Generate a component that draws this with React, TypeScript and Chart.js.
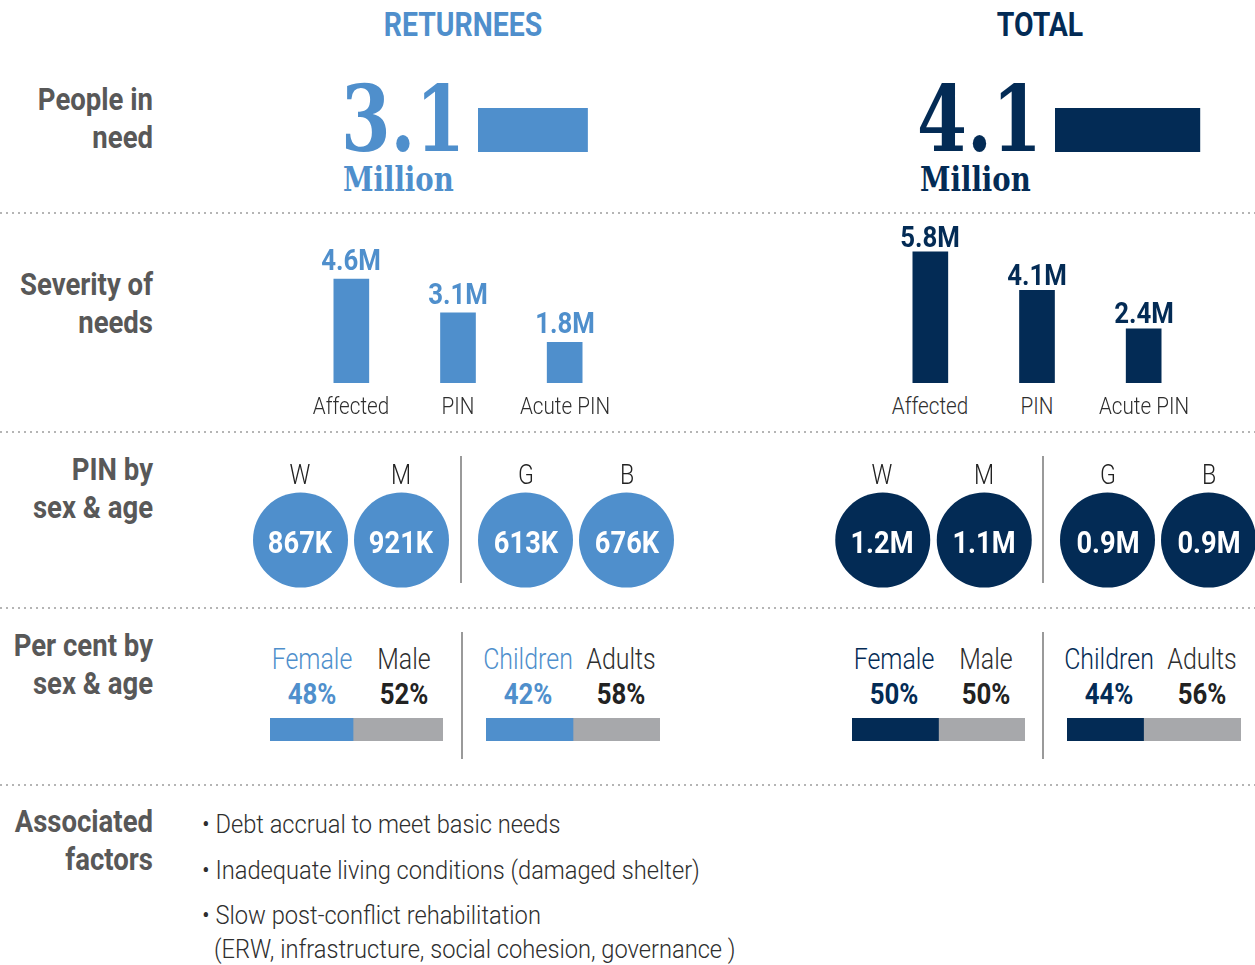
import React, { useEffect, useRef, useState } from "react";
import { Chart, registerables } from "chart.js";

Chart.register(...registerables);

// ---------------- data ----------------
const groupTitles = ["RETURNEES", "TOTAL"];
const pinMillions = [3.1, 4.1];
const pinUnit = "Million";

const severityCategories = ["Affected", "PIN", "Acute PIN"];
const severityReturnees = [4.6, 3.1, 1.8];
const severityTotal = [5.8, 4.1, 2.4];

const sexLetters = ["W", "M"];
const ageLetters = ["G", "B"];
const pinSexReturnees = ["867K", "921K"];
const pinAgeReturnees = ["613K", "676K"];
const pinSexTotal = ["1.2M", "1.1M"];
const pinAgeTotal = ["0.9M", "0.9M"];

const pctSexLabels = ["Female", "Male"];
const pctAgeLabels = ["Children", "Adults"];
const pctSexReturnees = [48, 52];
const pctAgeReturnees = [42, 58];
const pctSexTotal = [50, 50];
const pctAgeTotal = [44, 56];
// split of the children/adults bar for returnees, as drawn in the reference
const barAgeReturnees = [50, 50];

const rowLabels = [
  ["People in", "need"],
  ["Severity of", "needs"],
  ["PIN by", "sex & age"],
  ["Per cent by", "sex & age"],
  ["Associated", "factors"],
];

const factors = [
  "Debt accrual to meet basic needs",
  "Inadequate living conditions (damaged shelter)",
  "Slow post-conflict rehabilitation",
];
const factorNote = "(ERW, infrastructure, social cohesion, governance )";

// ---------------- styles ----------------
const BLUE = "#4f8fcc";
const NAVY = "#032b55";
const GREY_BAR = "#a7a8ab";
const LABEL = "#585858";
const DARK = "#2e2e2e";
const SANS = 'Roboto, "Noto Sans", sans-serif';
const SERIF = '"DejaVu Serif", "Liberation Serif", serif';
const SX = 0.86;
// where the two split labels sit along the split bar (in the bar's 0-100 scale)
const SPLIT_LABEL_AT = [24, 77.5];

type Align = "left" | "center" | "right";

function T(props: {
  x: number;
  y: number; // baseline
  size: number;
  weight?: number;
  color?: string;
  align?: Align;
  sx?: number;
  lh?: number;
  family?: string;
  children: React.ReactNode;
}) {
  const { x, y, size, weight = 400, color = DARK, align = "left", sx = SX, lh = 1, family = SANS, children } = props;
  const tx = align === "left" ? "0%" : align === "right" ? "-100%" : "-50%";
  return (
    <div
      style={{
        position: "absolute",
        left: x,
        top: y - size * (lh / 2 + 0.343),
        fontFamily: family,
        fontSize: size,
        fontWeight: weight,
        color,
        lineHeight: `${size * lh}px`,
        whiteSpace: "nowrap",
        transformOrigin: `${align} top`,
        transform: `translateX(${tx}) scaleX(${sx})`,
      }}
    >
      {children}
    </div>
  );
}

type Pt = { x: number; y: number; base: number };
type Geo = { pts: Pt[][]; marks: number[] };

function MiniChart(props: {
  left: number;
  top: number;
  width: number;
  height: number;
  config: any;
  overlay?: (g: Geo) => React.ReactNode;
}) {
  const { left, top, width, height, config, overlay } = props;
  const ref = useRef<HTMLCanvasElement>(null);
  const [geo, setGeo] = useState<Geo | null>(null);
  useEffect(() => {
    const chart = new Chart(ref.current as HTMLCanvasElement, config);
    const pts = chart.data.datasets.map((_: any, i: number) =>
      chart.getDatasetMeta(i).data.map((el: any) => ({ x: el.x, y: el.y, base: el.base }))
    );
    const xs: any = chart.scales.x;
    const marks = SPLIT_LABEL_AT.map((v) => xs.getPixelForValue(v));
    setGeo({ pts, marks });
    return () => chart.destroy();
  }, []);
  return (
    <div style={{ position: "absolute", left, top, width, height }}>
      <canvas ref={ref} width={width} height={height} style={{ display: "block", width, height }} />
      {geo && overlay ? overlay(geo) : null}
    </div>
  );
}

const baseOptions = {
  responsive: false,
  animation: false,
  events: [],
  layout: { padding: 0, autoPadding: false },
  plugins: { legend: { display: false }, tooltip: { enabled: false } },
};

function pinBarConfig(value: number, color: string) {
  return {
    type: "bar",
    data: { labels: [pinUnit], datasets: [{ data: [value], backgroundColor: color, borderWidth: 0, barThickness: 44 }] },
    options: {
      ...baseOptions,
      indexAxis: "y",
      scales: { x: { display: false, min: 0, max: 6 }, y: { display: false } },
    },
  };
}

function severityConfig(values: number[], color: string) {
  return {
    type: "bar",
    data: {
      labels: severityCategories,
      datasets: [{ data: values, backgroundColor: color, borderWidth: 0, barThickness: 35 }],
    },
    options: {
      ...baseOptions,
      scales: { x: { display: false }, y: { display: false, min: 0, max: 6.5 } },
    },
  };
}

function circleConfig(letters: string[], color: string) {
  return {
    type: "bubble",
    data: {
      datasets: [
        {
          data: letters.map((l) => ({ x: l, y: 0, r: 47.5 })),
          backgroundColor: color,
          borderWidth: 0,
          clip: false,
        },
      ],
    },
    options: {
      ...baseOptions,
      scales: {
        x: { type: "category", labels: letters, offset: true, display: false },
        y: { type: "linear", min: -1, max: 1, display: false },
      },
    },
  };
}

function splitConfig(shares: number[], color: string) {
  return {
    type: "bar",
    data: {
      labels: ["share"],
      datasets: [
        { data: [shares[0]], backgroundColor: color, borderWidth: 0, barThickness: 23 },
        { data: [shares[1]], backgroundColor: GREY_BAR, borderWidth: 0, barThickness: 23 },
      ],
    },
    options: {
      ...baseOptions,
      indexAxis: "y",
      scales: {
        x: { display: false, stacked: true, min: 0, max: 100 },
        y: { display: false, stacked: true },
      },
    },
  };
}

function severityOverlay(values: number[], color: string, gap: number) {
  return (g: Geo) =>
    g.pts[0].map((p, i) => (
      <React.Fragment key={i}>
        <T x={p.x} y={p.y - gap} size={30} weight={700} color={color} align="center">
          {values[i]}M
        </T>
        <T x={p.x} y={p.base + 31} size={24} weight={300} color={DARK} align="center">
          {severityCategories[i]}
        </T>
      </React.Fragment>
    ));
}

function circleOverlay(letters: string[], values: string[]) {
  return (g: Geo) =>
    g.pts[0].map((p, i) => (
      <React.Fragment key={i}>
        <T x={p.x} y={p.y - 55} size={27} weight={300} color="#222" align="center">
          {letters[i]}
        </T>
        <T x={p.x} y={p.y + 13} size={31} weight={700} color="#fff" align="center" sx={0.88}>
          {values[i]}
        </T>
      </React.Fragment>
    ));
}

function splitOverlay(labels: string[], pcts: number[], color: string) {
  return (g: Geo) =>
    g.pts.map((ds, i) => {
      const p = ds[0];
      const cx = g.marks[i];
      const c = i === 0 ? color : DARK;
      return (
        <React.Fragment key={i}>
          <T x={cx} y={p.y - 60.5} size={29} weight={300} color={c} align="center">
            {labels[i]}
          </T>
          <T x={cx} y={p.y - 25.5} size={30} weight={700} color={i === 0 ? color : "#222"} align="center">
            {pcts[i]}%
          </T>
        </React.Fragment>
      );
    });
}

function Dotted({ y }: { y: number }) {
  return (
    <div
      style={{
        position: "absolute",
        left: 0,
        top: y,
        width: 1255,
        height: 2,
        backgroundImage: "repeating-linear-gradient(to right, #b5b5b5 0 2px, transparent 2px 6px)",
      }}
    />
  );
}

function VLine({ x, y1, y2 }: { x: number; y1: number; y2: number }) {
  return <div style={{ position: "absolute", left: x, top: y1, width: 2, height: y2 - y1, background: "#9a9a9a" }} />;
}

export default function App() {
  const rowBaselines = [
    [110, 148],
    [295, 333],
    [480, 518],
    [656, 694],
    [832, 870],
  ];
  return (
    <div
      style={{
        position: "absolute",
        left: 0,
        top: 0,
        width: 1255,
        height: 965,
        overflow: "hidden",
        background: "#fff",
      }}
    >
      {/* titles */}
      <T x={463} y={36} size={33} weight={700} color={BLUE} align="center">
        {groupTitles[0]}
      </T>
      <T x={1040} y={36} size={33} weight={700} color={NAVY} align="center">
        {groupTitles[1]}
      </T>

      {/* row labels */}
      {rowLabels.map((lines, r) =>
        lines.map((line, k) => (
          <T key={`${r}-${k}`} x={153} y={rowBaselines[r][k]} size={32} weight={700} color={LABEL} align="right">
            {line}
          </T>
        ))
      )}

      {[212, 431, 607, 784].map((y) => (
        <Dotted key={y} y={y} />
      ))}

      {/* People in need */}
      <T x={341} y={152} size={92} weight={700} color={BLUE} family={SERIF} sx={0.775} lh={0.76}>
        {pinMillions[0]}
      </T>
      <T x={343} y={191} size={34} weight={700} color={BLUE} family={SERIF} sx={0.81} lh={0.85}>
        {pinUnit}
      </T>
      <MiniChart left={478} top={108} width={212} height={44} config={pinBarConfig(pinMillions[0], BLUE)} />

      <T x={917} y={152} size={92} weight={700} color={NAVY} family={SERIF} sx={0.78} lh={0.76}>
        {pinMillions[1]}
      </T>
      <T x={920} y={191} size={34} weight={700} color={NAVY} family={SERIF} sx={0.81} lh={0.85}>
        {pinUnit}
      </T>
      <MiniChart left={1055} top={108} width={212} height={44} config={pinBarConfig(pinMillions[1], NAVY)} />

      {/* Severity of needs */}
      <MiniChart
        left={298}
        top={236}
        width={320}
        height={147}
        config={severityConfig(severityReturnees, BLUE)}
        overlay={severityOverlay(severityReturnees, BLUE, 9)}
      />
      <MiniChart
        left={877}
        top={236}
        width={320}
        height={147}
        config={severityConfig(severityTotal, NAVY)}
        overlay={severityOverlay(severityTotal, NAVY, 5)}
      />

      {/* PIN by sex & age */}
      <MiniChart left={249.5} top={490} width={202} height={100} config={circleConfig(sexLetters, BLUE)} overlay={circleOverlay(sexLetters, pinSexReturnees)} />
      <MiniChart left={475} top={490} width={202} height={100} config={circleConfig(ageLetters, BLUE)} overlay={circleOverlay(ageLetters, pinAgeReturnees)} />
      <MiniChart left={831.5} top={490} width={203} height={100} config={circleConfig(sexLetters, NAVY)} overlay={circleOverlay(sexLetters, pinSexTotal)} />
      <MiniChart left={1057} top={490} width={202} height={100} config={circleConfig(ageLetters, NAVY)} overlay={circleOverlay(ageLetters, pinAgeTotal)} />
      <VLine x={460} y1={456} y2={583} />
      <VLine x={1042} y1={456} y2={583} />

      {/* Per cent by sex & age */}
      <MiniChart left={270} top={718} width={173} height={23} config={splitConfig(pctSexReturnees, BLUE)} overlay={splitOverlay(pctSexLabels, pctSexReturnees, BLUE)} />
      <MiniChart left={486} top={718} width={174} height={23} config={splitConfig(barAgeReturnees, BLUE)} overlay={splitOverlay(pctAgeLabels, pctAgeReturnees, BLUE)} />
      <MiniChart left={852} top={718} width={173} height={23} config={splitConfig(pctSexTotal, NAVY)} overlay={splitOverlay(pctSexLabels, pctSexTotal, NAVY)} />
      <MiniChart left={1067} top={718} width={174} height={23} config={splitConfig(pctAgeTotal, NAVY)} overlay={splitOverlay(pctAgeLabels, pctAgeTotal, NAVY)} />
      <VLine x={461} y1={632} y2={759} />
      <VLine x={1042} y1={632} y2={759} />

      {/* Associated factors */}
      {factors.map((f, i) => (
        <T key={i} x={202} y={833 + i * 45.5} size={26} weight={300} color={DARK} sx={0.91}>
          {"\u2022 " + f}
        </T>
      ))}
      <T x={214} y={958} size={26} weight={300} color={DARK} sx={0.91}>
        {factorNote}
      </T>
    </div>
  );
}
